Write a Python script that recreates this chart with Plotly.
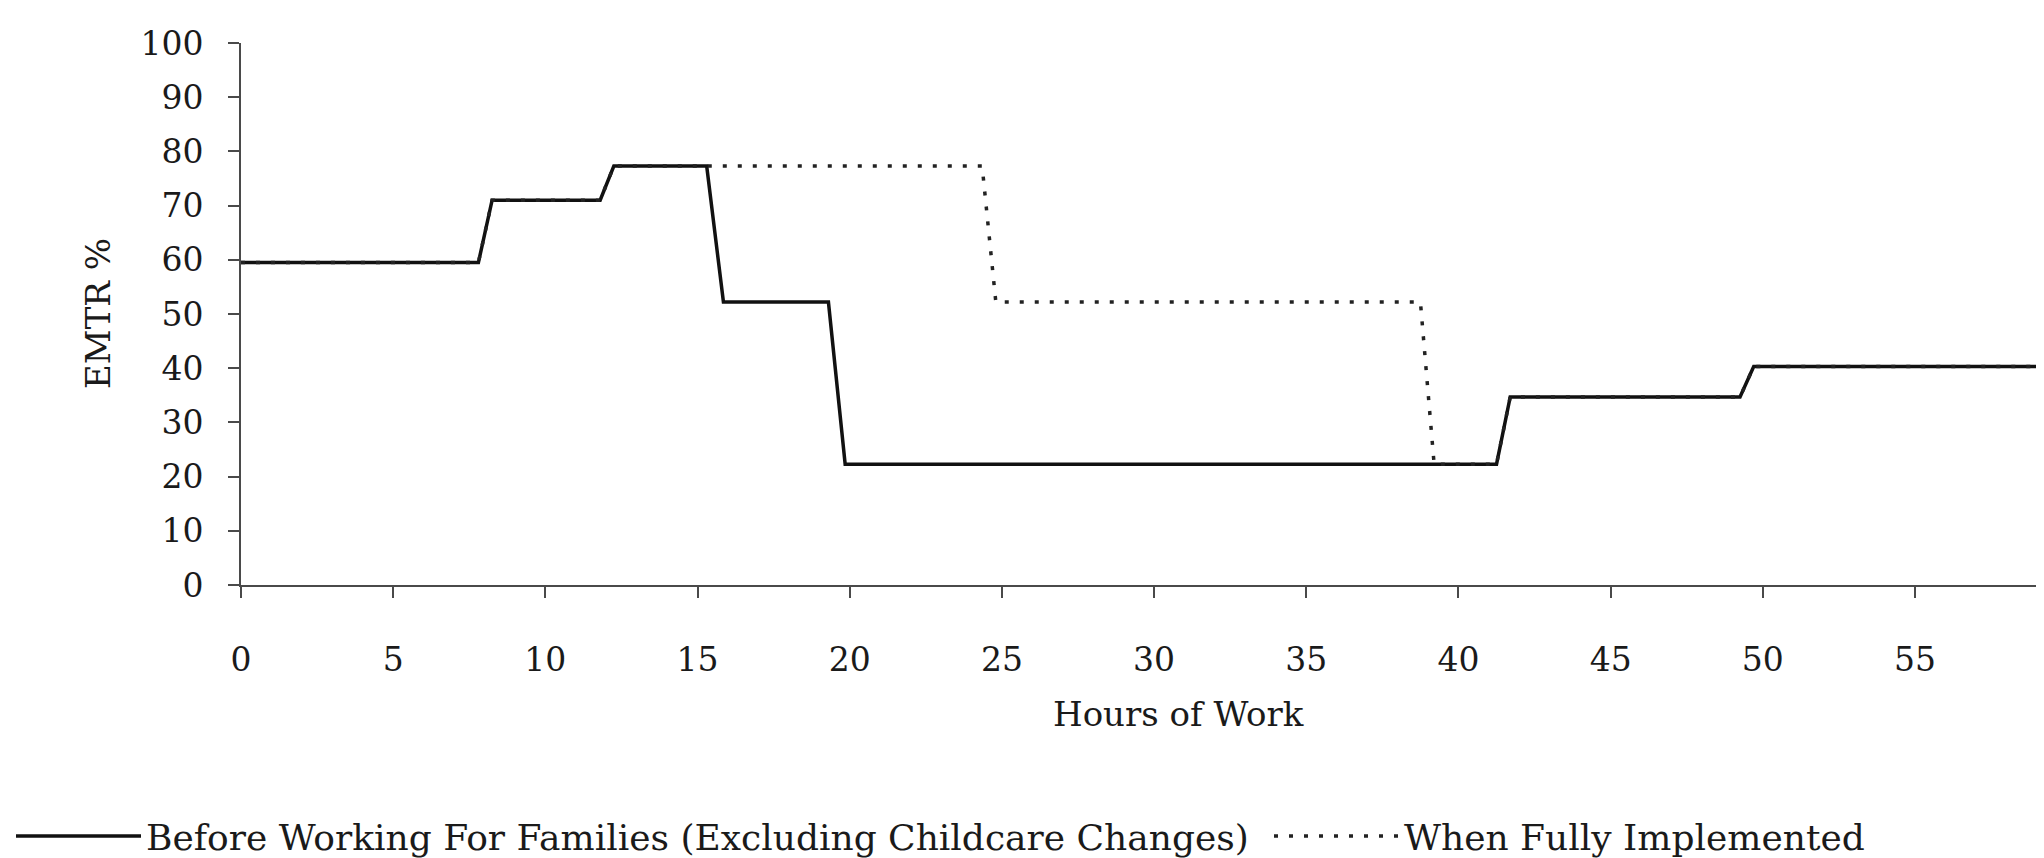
import plotly.graph_objects as go

# Hours of work (x) and EMTR % (y)
before_hours = [0, 7.8, 8.25, 11.8, 12.25, 15.3, 15.85, 19.3, 19.85, 41.25, 41.7, 49.25, 49.7, 60]
before_emtr = [59.5, 59.5, 71.0, 71.0, 77.3, 77.3, 52.2, 52.2, 22.3, 22.3, 34.7, 34.7, 40.3, 40.3]

full_hours = [0, 7.8, 8.25, 11.8, 12.25, 24.35, 24.8, 38.75, 39.2, 41.25, 41.7, 49.25, 49.7, 60]
full_emtr = [59.5, 59.5, 71.0, 71.0, 77.3, 77.3, 52.2, 52.2, 22.3, 22.3, 34.7, 34.7, 40.3, 40.3]

x_ticks = [0, 5, 10, 15, 20, 25, 30, 35, 40, 45, 50, 55]
y_ticks = [0, 10, 20, 30, 40, 50, 60, 70, 80, 90, 100]

name_before = "Before Working For Families (Excluding Childcare Changes)"
name_full = "When Fully Implemented"

SERIF = "Century Schoolbook, DejaVu Serif, serif"
TXT = "#1a1a1a"
AX = "#4a4a4a"

fig = go.Figure()
fig.add_trace(go.Scatter(
    x=before_hours, y=before_emtr, mode="lines", name=name_before,
    line=dict(color="#111111", width=3.5),
    legendwidth=1118,
))
fig.add_trace(go.Scatter(
    x=full_hours, y=full_emtr, mode="lines", name=name_full,
    line=dict(color="#222222", width=3.5, dash="4px,11px"),
))

W, H = 2044, 858
L, R, T, B = 233, 0, 35, 275
PW = W - L - R
PH = H - T - B

fig.update_layout(
    width=W, height=H,
    margin=dict(l=L, r=R, t=T, b=B),
    paper_bgcolor="white", plot_bgcolor="white",
    showlegend=True,
    legend=dict(
        orientation="h", x=-(L - 3) / PW, xanchor="left",
        y=-(837 - (T + PH)) / PH, yanchor="middle",
        itemwidth=125,
        font=dict(family=SERIF, size=36, color=TXT),
        bgcolor="rgba(0,0,0,0)",
    ),
    font=dict(family=SERIF, color=TXT),
)
fig.update_xaxes(
    range=[0, 59.5], tickvals=x_ticks, ticktext=[str(v) for v in x_ticks],
    showgrid=False, zeroline=False, showline=True, linecolor=AX, linewidth=2,
    ticks="outside", ticklen=11, tickwidth=2, tickcolor=AX,
    ticklabelstandoff=33,
    tickfont=dict(family=SERIF, size=33, color=TXT),
)
fig.update_yaxes(
    range=[0, 100], tickvals=y_ticks, ticktext=[str(v) for v in y_ticks],
    showgrid=False, zeroline=False, showline=True, linecolor=AX, linewidth=2,
    ticks="outside", ticklen=11, tickwidth=2, tickcolor=AX,
    ticklabelstandoff=18,
    tickfont=dict(family=SERIF, size=33, color=TXT),
)
fig.add_annotation(
    text="Hours of Work", xref="paper", yref="paper",
    x=(1170 - L) / PW, y=-(713 - (T + PH)) / PH,
    xanchor="center", yanchor="middle", showarrow=False,
    font=dict(family=SERIF, size=34, color=TXT),
)
fig.add_annotation(
    text="EMTR %", xref="paper", yref="paper",
    x=-(L - 90) / PW, y=0.5,
    xanchor="center", yanchor="middle", showarrow=False, textangle=-90,
    font=dict(family=SERIF, size=34, color=TXT),
)

fig.write_html("out.html")
